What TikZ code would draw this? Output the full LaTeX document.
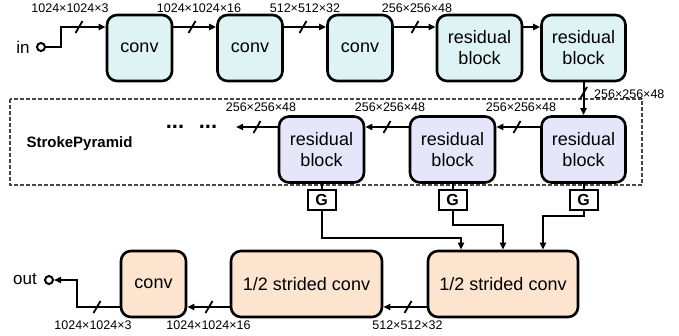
\documentclass[tikz,border=0pt]{standalone}
\usepackage{fontspec}
\setmainfont{Liberation Sans}
\usetikzlibrary{arrows.meta,calc}

\definecolor{topfill}{RGB}{222,243,243}
\definecolor{midfill}{RGB}{230,230,250}
\definecolor{botfill}{RGB}{252,228,206}
\definecolor{frame}{RGB}{70,70,70}

\tikzset{
  blk/.style={draw, line width=2.6pt, rounded corners=10pt, align=center,
    inner sep=0pt, minimum height=66, minimum width=65,
    font=\fontsize{18}{21}\selectfont},
  topbox/.style={blk, fill=topfill},
  midbox/.style={blk, fill=midfill},
  botbox/.style={blk, fill=botfill},
  gbox/.style={draw, line width=2pt, fill=white, minimum width=28,
    minimum height=20, inner sep=0pt, font=\bfseries\fontsize{16}{16}\selectfont},
  port/.style={circle, draw, line width=2pt, fill=white, minimum size=8,
    inner sep=0pt},
  flow/.style={line width=2pt, -{Triangle[length=7pt,width=6pt]}},
  plain/.style={line width=2pt},
  dim/.style={inner sep=0pt, font=\fontsize{12.5}{14}\selectfont},
  iolbl/.style={inner sep=0pt, font=\fontsize{17}{19}\selectfont},
  dashbox/.style={draw=frame, line width=1.4pt, dash pattern=on 4pt off 2pt},
  busmark/.pic={\draw[line width=1.8pt] (-3.5,6) -- (3.5,-6);}
}

\begin{document}
\begin{tikzpicture}[x=1pt,y=-1pt]
\useasboundingbox (0,0) rectangle (679,335);

% StrokePyramid frame
\draw[dashbox] (10,99) rectangle (642,185);
\node[anchor=base, inner sep=0pt, font=\bfseries\fontsize{15}{15}\selectfont]
  (sp) at (79.5,147.5) {StrokePyramid};

% encoder row
\node[topbox] (c1) at (139.5,48) {conv};
\node[topbox] (c2) at (250,48) {conv};
\node[topbox] (c3) at (360,48) {conv};
\node[topbox, minimum width=85] (r1) at (479.5,48) {residual\\block};
\node[topbox, minimum width=84] (r2) at (583.5,48) {residual\\block};

\node[iolbl] (inlbl) at (23,47) {in};
\node[port] (inport) at (41,47) {};

\draw[flow] (inport.east) -| (61,27) -- (c1.west |- 0,27);
\draw[flow] (c1.east |- 0,27) -- (c2.west |- 0,27);
\draw[flow] (c2.east |- 0,27) -- (c3.west |- 0,27);
\draw[flow] (c3.east |- 0,27) -- (r1.west |- 0,27);
\draw[flow] (r1.east |- 0,27) -- (r2.west |- 0,27);

\pic at (79,27) {busmark};
\pic at (192,27) {busmark};
\pic at (303,27) {busmark};
\pic at (415,27) {busmark};

\node[dim] (d1) at (70,8) {1024×1024×3};
\node[dim] (d2) at (199,8) {1024×1024×16};
\node[dim] (d3) at (305,8) {512×512×32};
\node[dim] (d4) at (417,8) {256×256×48};

% pyramid row
\node[midbox, minimum width=84] (rR) at (583.5,149.5) {residual\\block};
\node[midbox, minimum width=85] (rM) at (452.5,149.5) {residual\\block};
\node[midbox, minimum width=85] (rL) at (321.5,149.5) {residual\\block};

\draw[flow] (r2.south) -- (rR.north);
\pic at (583.5,93) {busmark};
\node[dim, anchor=west] (d5) at (594,94) {256×256×48};

\coordinate (dotsend) at (236,127);
\draw[flow] (rR.west |- 0,127) -- (rM.east |- 0,127);
\draw[flow] (rM.west |- 0,127) -- (rL.east |- 0,127);
\draw[flow] (rL.west |- 0,127) -- (dotsend);
\pic at (517,127) {busmark};
\pic at (387,127) {busmark};
\pic at (257,127) {busmark};
\node[dim] (d6) at (521,107) {256×256×48};
\node[dim] (d7) at (390,107) {256×256×48};
\node[dim] (d8) at (261,107) {256×256×48};

\node[anchor=base, inner sep=0pt, font=\bfseries\fontsize{22}{22}\selectfont]
  (dotsA) at (175,128) {...};
\node[anchor=base, inner sep=0pt, font=\bfseries\fontsize{22}{22}\selectfont]
  (dotsB) at (208,128) {...};

% guidance taps
\node[gbox] (gL) at (rL.center |- 0,200) {G};
\node[gbox] (gM) at (rM.center |- 0,200) {G};
\node[gbox] (gR) at (rR.center |- 0,200) {G};
\draw[plain] (rL.south) -- (gL.north);
\draw[plain] (rM.south) -- (gM.north);
\draw[plain] (rR.south) -- (gR.north);

% decoder row
\node[botbox, minimum width=150] (s1) at (503,284) {1/2 strided conv};
\node[botbox, minimum width=151] (s2) at (306.5,284) {1/2 strided conv};
\node[botbox] (oc) at (153.5,284) {conv};

\draw[flow] (gL.south) -- ++(0,27) -| ([xshift=-42pt]s1.north);
\draw[flow] (gM.south) -- ++(0,14) -| (s1.north);
\draw[flow] (gR.south) -- ++(0,5) -| ([xshift=40pt]s1.north);

\node[iolbl] (outlbl) at (25,279) {out};
\node[port] (outport) at (49,280) {};

\draw[flow] (s1.west |- 0,307) -- (s2.east |- 0,307);
\draw[flow] (s2.west |- 0,307) -- (oc.east |- 0,307);
\draw[flow] (oc.west |- 0,307) -| (77,280) -- (outport.east);
\pic at (408,307) {busmark};
\pic at (209,307) {busmark};
\pic at (97,307) {busmark};

\node[dim] (d9) at (407.5,325.5) {512×512×32};
\node[dim] (d10) at (208.5,325.5) {1024×1024×16};
\node[dim] (d11) at (93,325.5) {1024×1024×3};
\end{tikzpicture}
\end{document}
